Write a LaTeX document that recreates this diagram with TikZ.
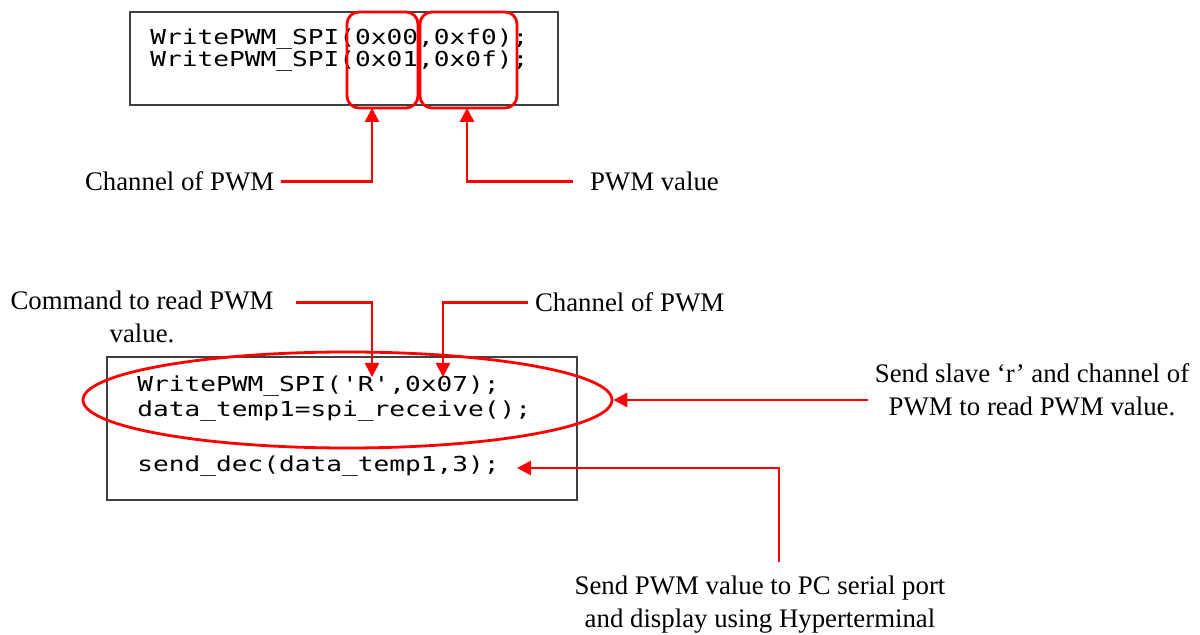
\documentclass[tikz,border=0pt]{standalone}
\usepackage{fontspec}
\setmainfont{Liberation Serif}
\newfontfamily\codefont[FakeStretch=1.27]{DejaVu Sans Mono}
\definecolor{myred}{RGB}{255,0,0}
\definecolor{mygray}{RGB}{64,64,64}
\usetikzlibrary{arrows.meta,positioning,shapes.geometric}

\begin{document}
\begin{tikzpicture}[x=0.5pt, y=-0.5pt,
    lbl/.style={font=\fontsize{13.4}{16.5}\selectfont, align=center},
    code/.style={font=\codefont\fontsize{10.3}{11.5}\selectfont, anchor=base west, inner sep=0pt},
    codebox/.style={draw=mygray, line width=0.6pt, inner sep=0pt},
    hibox/.style={draw=myred, line width=1.4pt, rounded corners=6pt, inner sep=0pt, minimum height=48pt},
    pointer/.style={draw=myred, line width=1.4pt, -{Triangle[length=7pt,width=7pt]}}]
    \useasboundingbox (0,0) rectangle (1200,635);
    \fill[white] (0,0) rectangle (1200,635);
    % writing two channels
    \node (b1) [codebox, minimum width=214pt, minimum height=46.5pt] at (344,58.5) {};
    \node (w1) [code] at (150,45) {WritePWM\_SPI(0x00,0xf0);};
    \node (w2) [code] at (150,67) {WritePWM\_SPI(0x01,0x0f);};
    \node (h1) [hibox, minimum width=35.5pt] at (382.5,60) {};
    \node (h2) [hibox, minimum width=48.5pt] at (468.5,60) {};
    \coordinate (t1) at (372,108);
    \coordinate (t2) at (467,108);
    \node (c1) [lbl, anchor=base west] at (78,191) {Channel of PWM};
    \node (v1) [lbl, anchor=base west] at (583,191) {PWM value};
    \draw[pointer] (c1.east) -| (t1);
    \draw[pointer] ([xshift=-5pt]v1.west) -| (t2);
    % reading one channel back
    \node (b2) [codebox, minimum width=235pt, minimum height=71.5pt] at (342,428.5) {};
    \node (r1) [code] at (137,392) {WritePWM\_SPI('R',0x07);};
    \node (r2) [code] at (137,417) {data\_temp1=spi\_receive();};
    \node (r3) [code] at (137,472) {send\_dec(data\_temp1,3);};
    \node (grp) [ellipse, draw=myred, line width=1.4pt, inner sep=0pt, minimum width=264.5pt, minimum height=48pt] at (347.5,400) {};
    \coordinate (t3) at (372,377);
    \coordinate (t4) at (443,377);
    \coordinate (t5) at (517,468);
    \node (cmd) [lbl, anchor=base] at (142,343) {Command to read PWM\\value.};
    \node (c2) [lbl, anchor=base west] at (528,312) {Channel of PWM};
    \node (snd) [lbl, anchor=base] at (1032,416) {Send slave ‘r’ and channel of\\PWM to read PWM value.};
    \node (pc) [lbl, anchor=base] at (760,628) {Send PWM value to PC serial port\\and display using Hyperterminal};
    \draw[pointer] ([xshift=8pt]cmd.north east |- c2.west) -| (t3);
    \draw[pointer] (c2.west) -| (t4);
    \draw[pointer] (snd.west |- grp.east) -- (grp.east);
    \draw[pointer] ([xshift=9.5pt,yshift=3.5pt]pc.north) |- (t5);
\end{tikzpicture}
\end{document}
